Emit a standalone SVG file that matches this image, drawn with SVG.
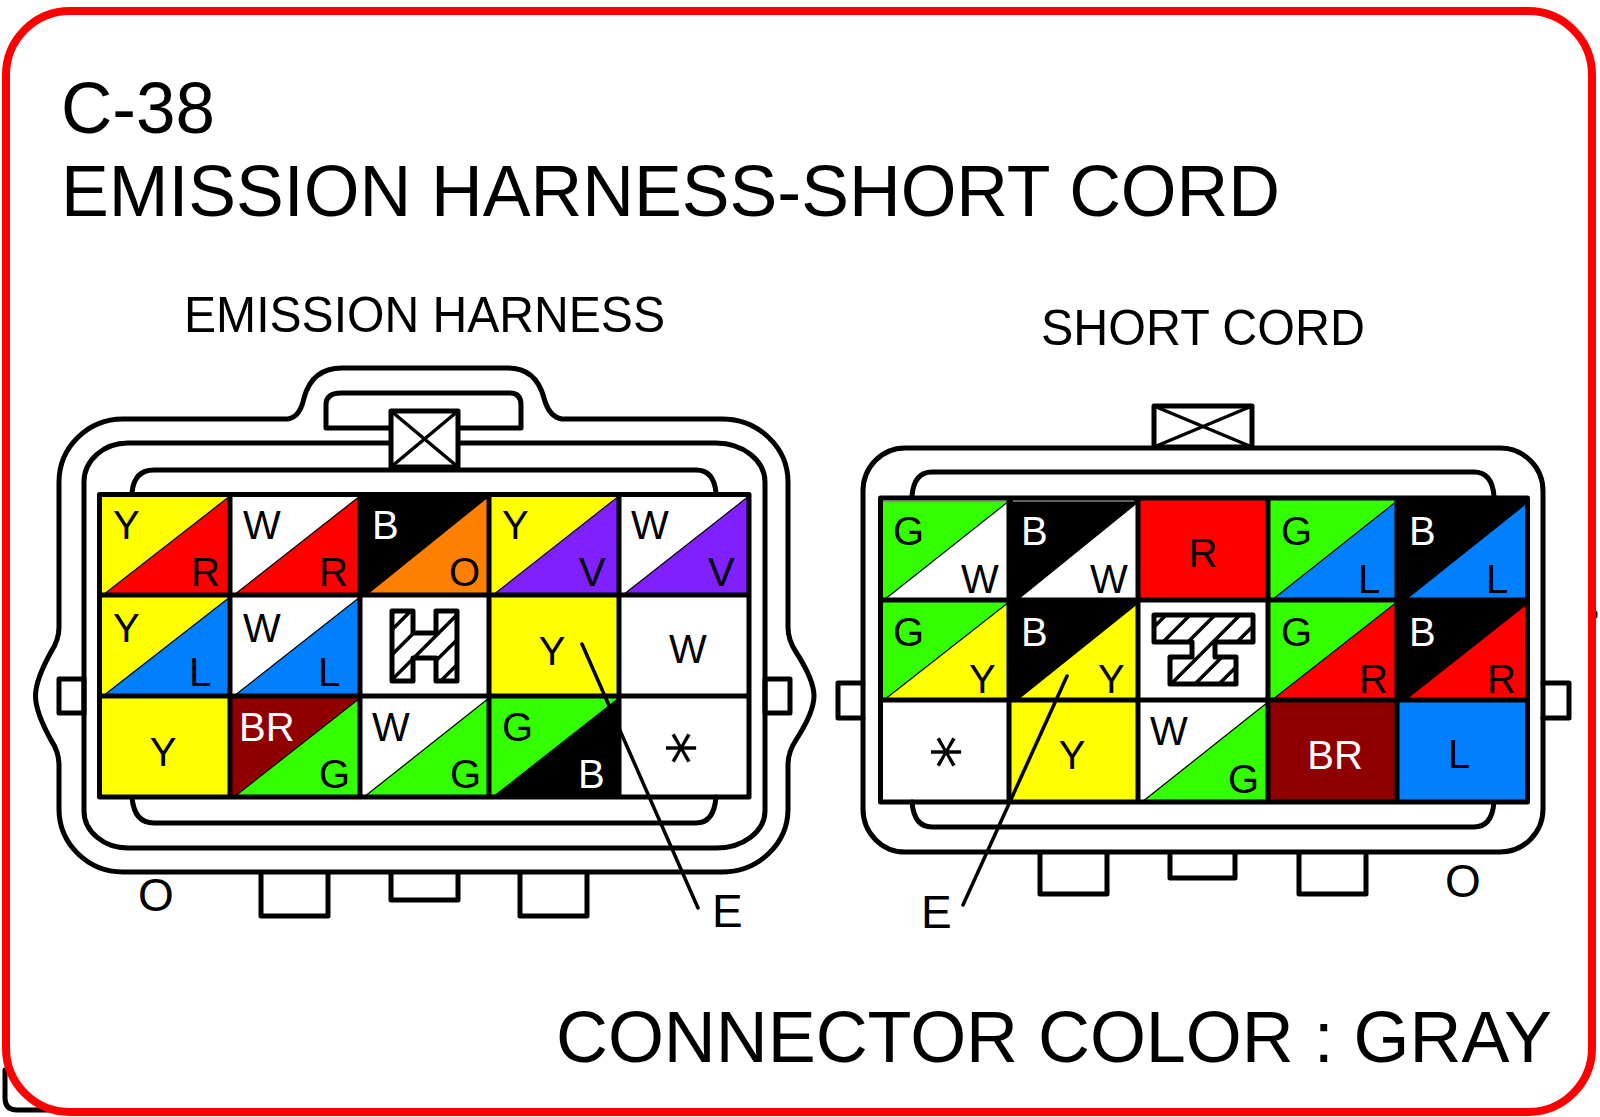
<svg xmlns="http://www.w3.org/2000/svg" width="1600" height="1117" viewBox="0 0 1600 1117">
<style>
text{font-family:"Liberation Sans",Arial,sans-serif;fill:#000}
.t{font-size:72px}.h{font-size:50px}.l{font-size:40px}.o{font-size:46px}
.w{fill:#fff}.m{text-anchor:middle}
.s{font-family:"DejaVu Sans",sans-serif;font-size:66px;text-anchor:middle}
.k{fill:none;stroke:#000;stroke-width:5;stroke-linejoin:round;stroke-linecap:round}
.f{fill:#fff;stroke:#000;stroke-width:5;stroke-linejoin:round}
.g{fill:none;stroke:#000;stroke-width:5;stroke-linejoin:round}
.x{fill:none;stroke:#000;stroke-width:3.500}
.lead{fill:none;stroke:#000;stroke-width:3.500;stroke-linecap:round}
.tri{stroke:#000;stroke-width:1.2}
.Y{fill:#ffff00}.R{fill:#ff0000}.L{fill:#0080ff}.G{fill:#33ff00}.V{fill:#8020ff}.O{fill:#ff8000}.N{fill:#900000}.B{fill:#000}.W{fill:#fff}
</style>
<defs>
<clipPath id="hclip"><path d="M392 611H413V633H436V611H457V681H436V658H413V681H392Z"/></clipPath>
<clipPath id="tclip"><path d="M1154 615H1253V642H1215V657H1236V684H1170V657H1192V642H1154Z"/></clipPath>
</defs>
<rect width="1600" height="1117" fill="#fff"/>
<path d="M5 1070V1098Q5 1110 17 1110H48" class="k"/>
<path d="M1595 613v3" class="k"/>
<rect id="frame" x="6" y="11" width="1586" height="1101" rx="64" ry="64" fill="none" stroke="#ff0000" stroke-width="8"/>

<g id="titles">
<text class="t" x="61" y="133" textLength="154" lengthAdjust="spacingAndGlyphs">C-38</text>
<text class="t" x="61" y="216" textLength="1219" lengthAdjust="spacingAndGlyphs">EMISSION HARNESS-SHORT CORD</text>
<text class="h" x="184" y="332" textLength="481" lengthAdjust="spacingAndGlyphs">EMISSION HARNESS</text>
<text class="h" x="1041" y="345" textLength="324" lengthAdjust="spacingAndGlyphs">SHORT CORD</text>
<text class="t" x="556" y="1062" textLength="996" lengthAdjust="spacingAndGlyphs">CONNECTOR COLOR : GRAY</text>
</g>

<g id="emission-harness">
<path class="k" d="M288 419Q300 417 304 398Q312 368 342 368H508Q536 368 544 398Q549 417 562 419H722A66 63 0 0 1 788 482V627Q788 640 796 652Q814 680 814 696Q814 712 796 740Q788 752 788 765V809A66 63 0 0 1 722 872H123A64 63 0 0 1 59 809V765Q59 752 51 740Q35.500 712 35.500 696Q35.500 680 51 652Q59 640 59 627V482A64 63 0 0 1 123 419Z"/>
<path class="k" d="M128 443H716A49 39 0 0 1 765 482V811A49 37 0 0 1 716 848H128A44 37 0 0 1 84 811V482A44 39 0 0 1 128 443Z"/>
<path class="k" d="M132 493Q134 470 154 470H696Q714 470 716 493M132 797Q134 823 154 823H696Q714 823 716 797"/>
<path class="k" d="M326 428V405Q326 393 341 393H510Q521 393 521 405V428ZM59 679H84V713H59ZM765 679H790V713H765Z"/>
<rect class="f" x="391" y="411" width="67" height="56"/>
<path class="x" d="M391 411L458 467M458 411L391 467"/>
<path class="k" d="M261 873V916H328V873M391 873V900H458V873M520 873V916H587V873"/>

<rect class="Y" x="99" y="494" width="131" height="101"/><polygon class="R tri" points="103,595 230,496 230,595"/>
<rect class="W" x="230" y="494" width="130" height="101"/><polygon class="R tri" points="234,595 360,496 360,595"/>
<rect class="B" x="360" y="494" width="129" height="101"/><polygon class="O tri" points="366,595 489,496 489,595"/>
<rect class="Y" x="489" y="494" width="130" height="101"/><polygon class="V tri" points="493,595 619,496 619,595"/>
<rect class="W" x="619" y="494" width="130" height="101"/><polygon class="V tri" points="623,595 749,496 749,595"/>
<rect class="Y" x="99" y="595" width="131" height="101"/><polygon class="L tri" points="103,696 230,597 230,696"/>
<rect class="W" x="230" y="595" width="130" height="101"/><polygon class="L tri" points="234,696 360,597 360,696"/>
<rect class="Y" x="489" y="595" width="130" height="101"/>
<rect class="Y" x="99" y="696" width="131" height="101"/>
<rect class="N" x="230" y="696" width="130" height="101"/><polygon class="G tri" points="234,797 360,698 360,797"/>
<polygon class="G tri" points="364,797 489,698 489,797"/>
<rect class="G" x="489" y="696" width="130" height="101"/><polygon class="B tri" points="493,797 619,698 619,797"/>
<path class="g" d="M99.500 494.500H749V797H99.500ZM99.500 595H749M99.500 696H749M230 494.500V797M360 494.500V797M489 494.500V797M619 494.500V797"/>

<g clip-path="url(#hclip)"><path class="x" d="M385 636.700L430 591.700M385 661.700L470 576.700M385 686.700L480 591.700M410 686.700L480 616.700M435 686.700L480 641.700"/></g>
<path class="k" d="M392 611H413V633H436V611H457V681H436V658H413V681H392Z"/>

<text class="l" x="113" y="539">Y</text><text class="l" x="191" y="586">R</text>
<text class="l" x="243" y="539">W</text><text class="l" x="319" y="586">R</text>
<text class="l w" x="372" y="539">B</text><text class="l" x="449" y="586">O</text>
<text class="l" x="502" y="539">Y</text><text class="l" x="579" y="586">V</text>
<text class="l" x="631" y="539">W</text><text class="l" x="708" y="586">V</text>
<text class="l" x="113" y="642">Y</text><text class="l" x="189" y="686">L</text>
<text class="l" x="243" y="642">W</text><text class="l" x="318" y="686">L</text>
<text class="l m" x="552" y="665">Y</text><text class="l m" x="688" y="663">W</text>
<text class="l m" x="163" y="766">Y</text>
<text class="l w" x="239" y="741">BR</text><text class="l" x="319" y="788">G</text>
<text class="l" x="372" y="741">W</text><text class="l" x="450" y="788">G</text>
<text class="l" x="502" y="741">G</text><text class="l w" x="578" y="788">B</text>
<text class="s" transform="translate(671 748) rotate(90)" y="24">*</text>
<text class="o m" x="156" y="911">O</text>
</g>

<g id="short-cord">
<path class="k" d="M905 448H1500A43 43 0 0 1 1543 491V809A43 43 0 0 1 1500 852H905A42 43 0 0 1 863 809V491A42 43 0 0 1 905 448Z"/>
<path class="k" d="M912 496Q914 472 932 472H1474Q1492 472 1494 496M912 802Q914 827 932 827H1474Q1492 827 1494 802"/>
<rect class="f" x="1154" y="406" width="98" height="41"/>
<path class="x" d="M1154 406L1252 447M1252 406L1154 447"/>
<path class="k" d="M863 683H838V718H863M1543 683H1569V718H1543M1040 853V894H1107V853M1170 853V878H1235V853M1299 853V894H1366V853"/>

<rect class="G" x="880" y="498" width="129" height="102"/><polygon class="W tri" points="884,600 1009,501 1009,600"/>
<rect class="B" x="1009" y="498" width="129" height="102"/><polygon class="W tri" points="1017,600 1138,502 1138,600"/>
<rect class="R" x="1138" y="498" width="130" height="102"/>
<rect class="G" x="1268" y="498" width="129" height="102"/><polygon class="L tri" points="1272,600 1397,501 1397,600"/>
<rect class="B" x="1397" y="498" width="131" height="102"/><polygon class="L tri" points="1405,600 1528,502 1528,600"/>
<rect class="G" x="880" y="600" width="129" height="100"/><polygon class="Y tri" points="884,700 1009,602 1009,700"/>
<rect class="B" x="1009" y="600" width="129" height="100"/><polygon class="Y tri" points="1017,700 1138,603 1138,700"/>
<rect class="G" x="1268" y="600" width="129" height="100"/><polygon class="R tri" points="1272,700 1397,602 1397,700"/>
<rect class="B" x="1397" y="600" width="131" height="100"/><polygon class="R tri" points="1405,700 1528,603 1528,700"/>
<rect class="Y" x="1009" y="700" width="129" height="102"/>
<polygon class="G tri" points="1142,802 1268,702 1268,802"/>
<rect class="N" x="1268" y="700" width="129" height="102"/>
<rect class="L" x="1397" y="700" width="131" height="102"/>
<path class="g" d="M880.500 498H1527.500V802H880.500ZM880.500 600H1527.500M880.500 700H1527.500M1009 498V802M1138 498V802M1268 498V802M1397 498V802"/>
<path d="M884 501H1005M1013 501H1134" fill="none" stroke="#808080" stroke-width="1.500"/>

<g clip-path="url(#tclip)"><path class="x" d="M1150 631L1180 601M1150 655L1210 595M1150 680L1240 590M1150 705L1270 585M1170 709L1270 609M1190 713L1270 633"/></g>
<path class="k" d="M1154 615H1253V642H1215V657H1236V684H1170V657H1192V642H1154Z"/>

<text class="l" x="893" y="545">G</text><text class="l" x="961" y="593">W</text>
<text class="l w" x="1021" y="545">B</text><text class="l" x="1090" y="593">W</text>
<text class="l m" x="1203" y="567">R</text>
<text class="l" x="1281" y="545">G</text><text class="l" x="1358" y="593">L</text>
<text class="l w" x="1409" y="545">B</text><text class="l" x="1486" y="593">L</text>
<text class="l" x="893" y="646">G</text><text class="l" x="969" y="693">Y</text>
<text class="l w" x="1021" y="646">B</text><text class="l" x="1098" y="693">Y</text>
<text class="l" x="1281" y="646">G</text><text class="l" x="1359" y="693">R</text>
<text class="l w" x="1409" y="646">B</text><text class="l" x="1487" y="693">R</text>
<text class="s" transform="translate(936 752) rotate(90)" y="24">*</text>
<text class="l m" x="1072" y="769">Y</text>
<text class="l" x="1150" y="745">W</text><text class="l" x="1228" y="793">G</text>
<text class="l m w" x="1335" y="769">BR</text>
<text class="l m" x="1459" y="768">L</text>
<text class="o m" x="1463" y="897">O</text>
</g>

<g id="connectors">
<path class="lead" d="M582 644L698 908"/>
<path class="lead" d="M1067 676L963 905"/>
</g>
<g id="callouts">
<text class="o" x="712" y="927">E</text>
<text class="o" x="921" y="928">E</text>
</g>
</svg>
